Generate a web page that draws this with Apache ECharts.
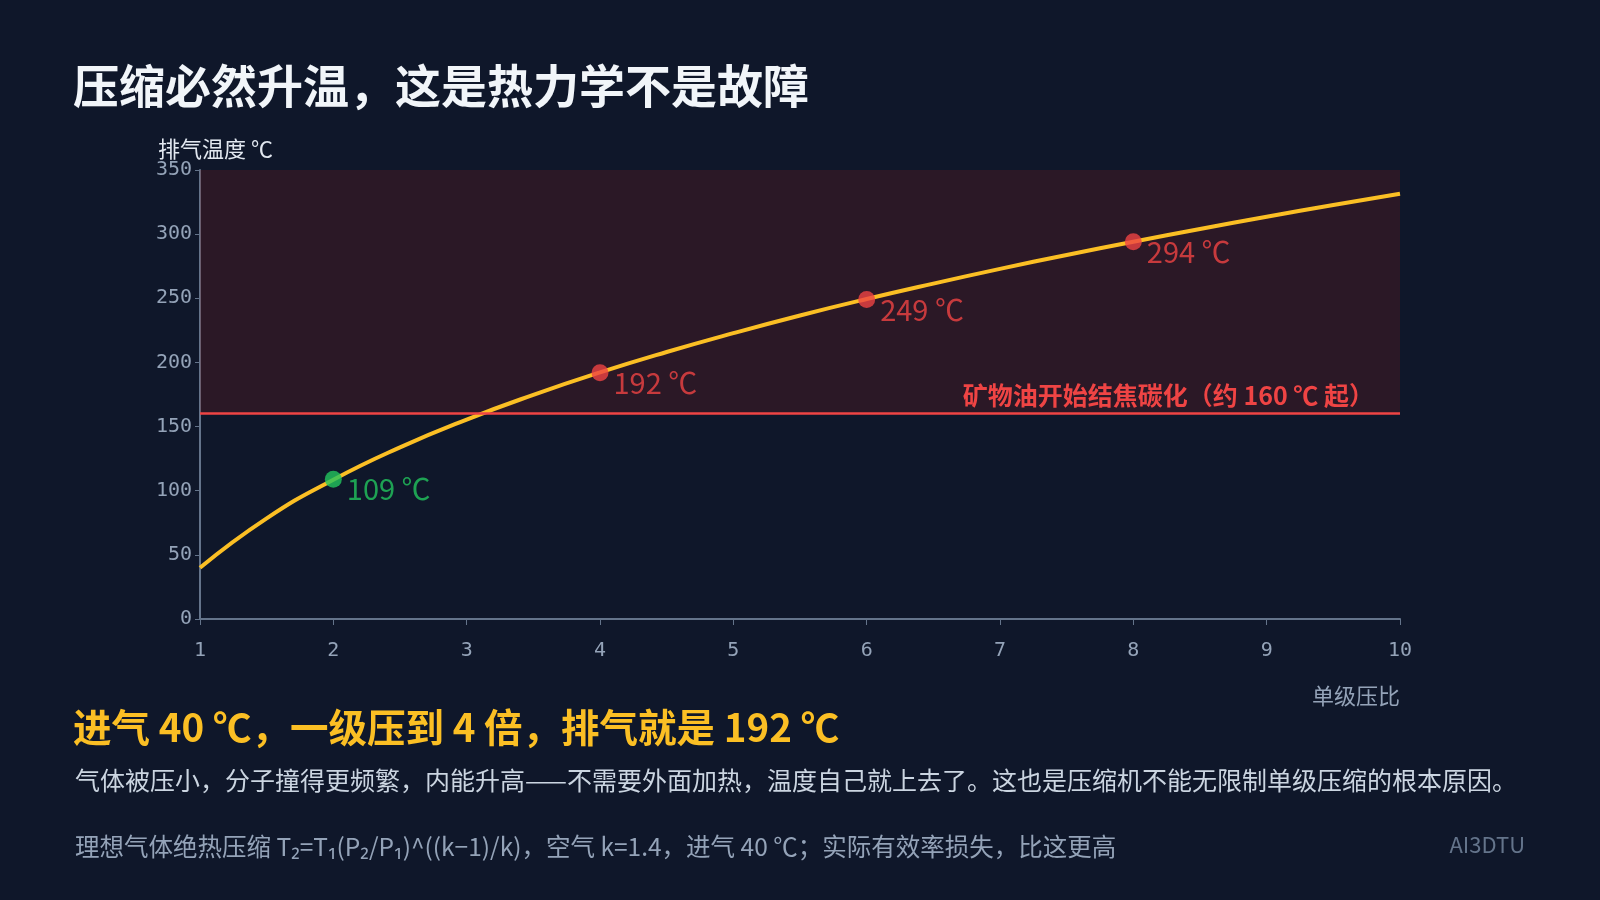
<!DOCTYPE html>
<html><head><meta charset="utf-8">
<script src="https://cdn.jsdelivr.net/npm/echarts@6/dist/echarts.min.js"></script>
<style>html,body{margin:0;padding:0;background:#0f172a;}#c{width:1600px;height:900px;}</style>
</head><body><div id="c"></div>
<script>
const ratios = [1,1.5,2,2.5,3,3.5,4,4.5,5,5.5,6,6.5,7,7.5,8,8.5,9,9.5,10];
const temps = [40,78.5,108.6,133.8,155.5,174.7,192.2,208.1,222.8,236.6,249.4,261.4,272.9,283.8,294.1,304,313.5,322.7,331.5];
const marks = [[2,109,'109 ℃','#22c55e'],[4,192,'192 ℃','#ef4444'],[6,249,'249 ℃','#ef4444'],[8,294,'294 ℃','#ef4444']];
const threshold = 160;
const thresholdLabel = '矿物油开始结焦碳化（约 160 ℃ 起）';
const cjk = '"Noto Sans CJK SC","Noto Sans",sans-serif';
const chart = echarts.init(document.getElementById('c'));
chart.setOption({
  backgroundColor:'#0f172a',
  animation:false,
  textStyle:{fontFamily:cjk},
  grid:{left:200,right:200,top:170,bottom:281},
  title:[
    {text:'压缩必然升温，这是热力学不是故障',left:68,top:58,textStyle:{color:'#f1f5f9',fontSize:46,fontWeight:'bold',fontFamily:cjk}},
    {text:'进气 40 ℃，一级压到 4 倍，排气就是 192 ℃',left:68,top:703,textStyle:{color:'#fbbf24',fontSize:38.5,fontWeight:'bold',fontFamily:cjk}},
    {text:'气体被压小，分子撞得更频繁，内能升高——不需要外面加热，温度自己就上去了。这也是压缩机不能无限制单级压缩的根本原因。',left:70,top:763,textStyle:{color:'#cbd5e1',fontSize:25,fontWeight:'normal',fontFamily:cjk}},
    {text:'理想气体绝热压缩 T₂=T₁(P₂/P₁)^((k−1)/k)，空气 k=1.4，进气 40 ℃；实际有效率损失，比这更高',left:70,top:829,textStyle:{color:'#94a3b8',fontSize:24.5,fontWeight:'normal',fontFamily:cjk}},
    {text:'AI3DTU',right:70,top:829,textStyle:{color:'#64748b',fontSize:22,fontWeight:'normal',fontFamily:cjk}}
  ],
  xAxis:{type:'value',min:1,max:10,interval:1,name:'单级压比',nameLocation:'end',
    nameGap:0,nameTextStyle:{color:'#94a3b8',fontSize:22,align:'right',verticalAlign:'top',padding:[66,0,0,0]},
    axisLine:{lineStyle:{color:'#64748b',width:2}},axisTick:{lineStyle:{color:'#64748b'},length:6},
    axisLabel:{color:'#94a3b8',fontSize:20,fontFamily:'"DejaVu Sans Mono",monospace',margin:22},splitLine:{show:false}},
  yAxis:{type:'value',min:0,max:350,interval:50,name:'排气温度 ℃',
    nameTextStyle:{color:'#e2e8f0',fontSize:22,align:'left',padding:[0,0,-16,-42]},
    axisLine:{show:true,lineStyle:{color:'#64748b',width:2}},axisTick:{show:true,lineStyle:{color:'#64748b'}},
    axisLabel:{color:'#94a3b8',fontSize:20,fontFamily:'"DejaVu Sans Mono",monospace'},splitLine:{show:false}},
  series:[
    {type:'line',data:ratios.map((r,i)=>[r,temps[i]]),smooth:true,showSymbol:false,
      lineStyle:{color:'#fbbf24',width:4},z:3,
      markArea:{silent:true,itemStyle:{color:'rgba(127,29,29,0.25)'},data:[[{yAxis:threshold},{yAxis:350}]]},
      markLine:{silent:true,symbol:'none',lineStyle:{color:'#ef4444',width:2.5,type:'solid'},
        label:{show:true,position:'insideEndTop',formatter:thresholdLabel,color:'#ef4444',fontSize:25,fontWeight:'bold',distance:[26,6]},
        data:[{yAxis:threshold}]}},
    {type:'scatter',z:5,symbolSize:17,
      data:marks.map(m=>({value:[m[0],m[1]],itemStyle:{color:m[3]},
        label:{show:true,position:'right',formatter:m[2],color:m[3],fontSize:29,offset:[0,10]}}))}
  ]
});
</script></body></html>
